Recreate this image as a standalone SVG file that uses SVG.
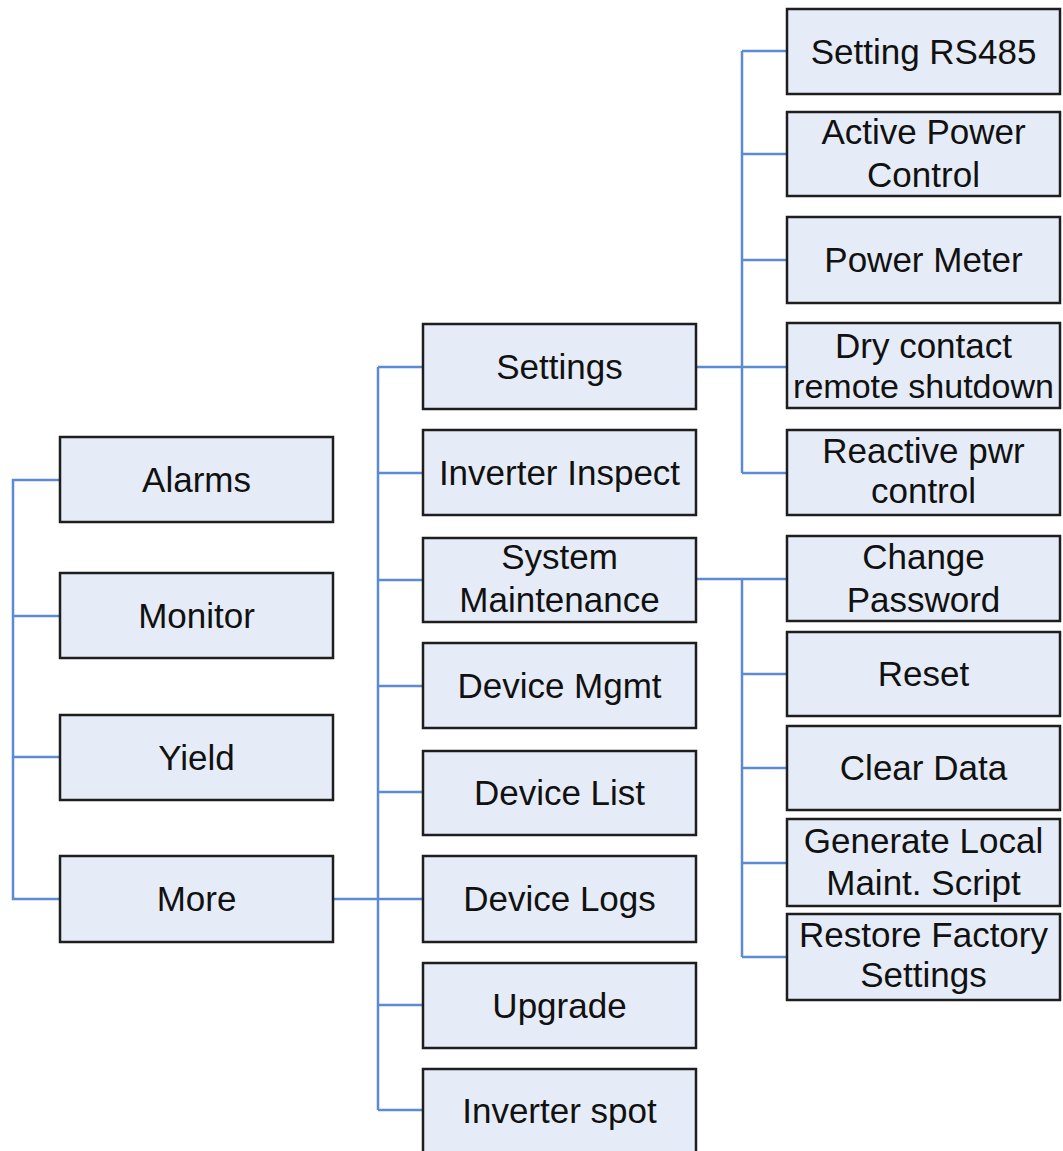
<svg xmlns="http://www.w3.org/2000/svg" width="1063" height="1151" viewBox="0 0 1063 1151">
<style>
.box{fill:#e6ecf7;stroke:#1e1e1e;stroke-width:2.5}
.t{font-family:"Liberation Sans",Arial,sans-serif;font-size:35px;fill:#111;text-anchor:middle}
.c{fill:none;stroke:#5b8bd2;stroke-width:2.5}
</style>
<rect width="1063" height="1151" fill="#ffffff"/>
<g id="connectors">
<path class="c" d="M60 480H13V899H60M13 616H60M13 757H60"/>
<path class="c" d="M333 899H423M378 367V1110M378 367H423M378 473H423M378 580H423M378 686H423M378 792H423M378 1005H423M378 1110H423"/>
<path class="c" d="M696 367H787M742 51V473M742 51H787M742 154H787M742 260H787M742 473H787"/>
<path class="c" d="M696 579H787M742 579V957M742 674H787M742 768H787M742 863H787M742 957H787"/>
</g>
<g id="n-alarms"><rect class="box" x="60" y="437" width="273" height="85"/><text class="t" x="196.5" y="492">Alarms</text></g>
<g id="n-monitor"><rect class="box" x="60" y="573" width="273" height="85"/><text class="t" x="196.5" y="628">Monitor</text></g>
<g id="n-yield"><rect class="box" x="60" y="715" width="273" height="85"/><text class="t" x="196.5" y="770">Yield</text></g>
<g id="n-more"><rect class="box" x="60" y="856" width="273" height="86"/><text class="t" x="196.5" y="911">More</text></g>

<g id="n-settings"><rect class="box" x="423" y="324" width="273" height="85"/><text class="t" x="559.5" y="379">Settings</text></g>
<g id="n-inverter-inspect"><rect class="box" x="423" y="430" width="273" height="85"/><text class="t" x="559.5" y="485">Inverter Inspect</text></g>
<g id="n-system-maintenance"><rect class="box" x="423" y="538" width="273" height="84"/><text class="t" x="559.5" y="569">System</text><text class="t" x="559.5" y="612">Maintenance</text></g>
<g id="n-device-mgmt"><rect class="box" x="423" y="643" width="273" height="85"/><text class="t" x="559.5" y="698">Device Mgmt</text></g>
<g id="n-device-list"><rect class="box" x="423" y="751" width="273" height="84"/><text class="t" x="559.5" y="805">Device List</text></g>
<g id="n-device-logs"><rect class="box" x="423" y="856" width="273" height="86"/><text class="t" x="559.5" y="911">Device Logs</text></g>
<g id="n-upgrade"><rect class="box" x="423" y="963" width="273" height="85"/><text class="t" x="559.5" y="1018">Upgrade</text></g>
<g id="n-inverter-spot"><rect class="box" x="423" y="1069" width="273" height="95"/><text class="t" x="559.5" y="1123">Inverter spot</text></g>

<g id="n-setting-rs485"><rect class="box" x="787" y="9" width="273" height="85"/><text class="t" x="923.5" y="64">Setting RS485</text></g>
<g id="n-active-power"><rect class="box" x="787" y="112" width="273" height="84"/><text class="t" x="923.5" y="144">Active Power</text><text class="t" x="923.5" y="187">Control</text></g>
<g id="n-power-meter"><rect class="box" x="787" y="217" width="273" height="86"/><text class="t" x="923.5" y="272">Power Meter</text></g>
<g id="n-dry-contact"><rect class="box" x="787" y="323" width="273" height="85"/><text class="t" x="923.5" y="358">Dry contact</text><text class="t" x="923.5" y="398" style="font-size:34px">remote shutdown</text></g>
<g id="n-reactive"><rect class="box" x="787" y="430" width="273" height="85"/><text class="t" x="923.5" y="463">Reactive pwr</text><text class="t" x="923.5" y="503">control</text></g>

<g id="n-change-password"><rect class="box" x="787" y="536" width="273" height="85"/><text class="t" x="923.5" y="569">Change</text><text class="t" x="923.5" y="612">Password</text></g>
<g id="n-reset"><rect class="box" x="787" y="632" width="273" height="84"/><text class="t" x="923.5" y="686">Reset</text></g>
<g id="n-clear-data"><rect class="box" x="787" y="726" width="273" height="84"/><text class="t" x="923.5" y="780">Clear Data</text></g>
<g id="n-generate"><rect class="box" x="787" y="819" width="273" height="87"/><text class="t" x="923.5" y="853">Generate Local</text><text class="t" x="923.5" y="895">Maint. Script</text></g>
<g id="n-restore"><rect class="box" x="787" y="914" width="273" height="86"/><text class="t" x="923.5" y="947">Restore Factory</text><text class="t" x="923.5" y="987">Settings</text></g>
</svg>
